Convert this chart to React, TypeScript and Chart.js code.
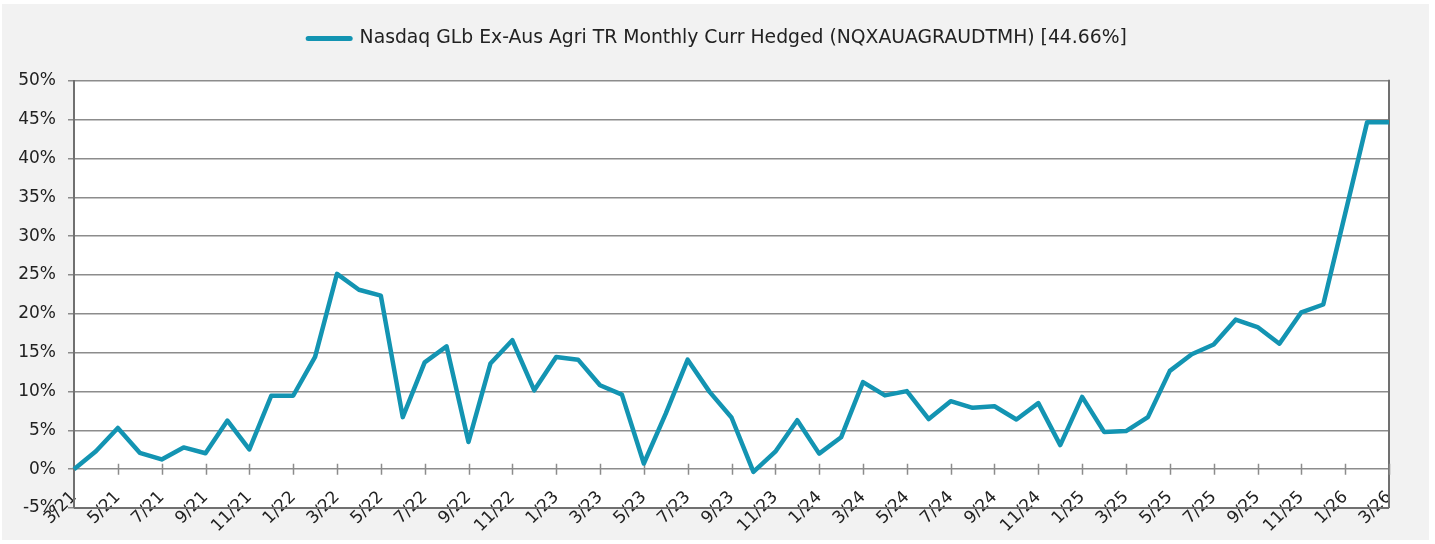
import React, { useEffect, useRef } from 'react';
import { Chart, registerables } from 'chart.js';

Chart.register(...registerables);

const months = [
  '3/21', '4/21', '5/21', '6/21', '7/21', '8/21', '9/21', '10/21', '11/21', '12/21',
  '1/22', '2/22', '3/22', '4/22', '5/22', '6/22', '7/22', '8/22', '9/22', '10/22', '11/22', '12/22',
  '1/23', '2/23', '3/23', '4/23', '5/23', '6/23', '7/23', '8/23', '9/23', '10/23', '11/23', '12/23',
  '1/24', '2/24', '3/24', '4/24', '5/24', '6/24', '7/24', '8/24', '9/24', '10/24', '11/24', '12/24',
  '1/25', '2/25', '3/25', '4/25', '5/25', '6/25', '7/25', '8/25', '9/25', '10/25', '11/25', '12/25',
  '1/26', '2/26', '3/26',
];

const values = [
  0.0, 2.3, 5.3, 2.1, 1.25, 2.8, 2.05, 6.25, 2.55, 9.45,
  9.45, 14.45, 25.15, 23.1, 22.35, 6.7, 13.75, 15.8, 3.5, 13.6, 16.6, 10.15,
  14.45, 14.1, 10.8, 9.6, 0.73, 7.15, 14.1, 9.95, 6.65, -0.35, 2.25, 6.3,
  2.0, 4.1, 11.2, 9.5, 10.05, 6.45, 8.75, 7.9, 8.1, 6.4, 8.5, 3.1,
  9.3, 4.8, 4.9, 6.7, 12.65, 14.8, 16.05, 19.25, 18.3, 16.15, 20.2, 21.2,
  32.9, 44.65, 44.66,
];

const seriesName = 'Nasdaq GLb Ex-Aus Agri TR Monthly Curr Hedged (NQXAUAGRAUDTMH) [44.66%]';
const yMin = -5;
const yMax = 50;
const yStep = 5;
const labelEvery = 2;

const FONT = "'DejaVu Sans', sans-serif";
const LINE_COLOR = '#1394b2';
const GRID_COLOR = '#8c8c8c';
const FRAME_COLOR = '#707070';
const TEXT_COLOR = '#222222';

const framePlugin = {
  id: 'frame',
  beforeInit(chart: any) {
    const legend = chart.legend;
    if (legend && !legend.__patched) {
      const orig = legend.fit;
      legend.fit = function () {
        orig.call(this);
        this.height += 23;
      };
      legend.__patched = true;
    }
  },
  afterLayout(chart: any) {
    const legend = chart.legend;
    if (legend) {
      legend.left = 0;
      legend.right = chart.width;
      legend.width = chart.width;
    }
  },
  beforeDraw(chart: any) {
    const { ctx, chartArea: a } = chart;
    ctx.save();
    ctx.fillStyle = '#ffffff';
    ctx.fillRect(a.left, a.top, a.right - a.left, a.bottom - a.top);
    ctx.restore();
  },
  beforeDatasetsDraw(chart: any) {
    const { ctx, chartArea: a, scales } = chart;
    ctx.save();
    ctx.strokeStyle = FRAME_COLOR;
    ctx.lineWidth = 2;
    ctx.beginPath();
    ctx.moveTo(a.left, a.bottom);
    ctx.lineTo(a.right, a.bottom);
    ctx.moveTo(a.right, a.top - 1);
    ctx.lineTo(a.right, a.bottom);
    ctx.stroke();
    const y0 = scales.y.getPixelForValue(0);
    ctx.strokeStyle = GRID_COLOR;
    ctx.lineWidth = 1.5;
    ctx.beginPath();
    for (let i = labelEvery; i < months.length; i += labelEvery) {
      const x = Math.round(scales.x.getPixelForValue(i)) + 0.5;
      ctx.moveTo(x, y0 - 5.5);
      ctx.lineTo(x, y0 + 5.5);
    }
    ctx.stroke();
    ctx.restore();
  },
};

export default function App() {
  const canvasRef = useRef<HTMLCanvasElement | null>(null);

  useEffect(() => {
    const canvas = canvasRef.current;
    if (!canvas) return;
    const chart = new Chart(canvas, {
      type: 'line',
      data: {
        labels: months,
        datasets: [
          {
            label: seriesName,
            data: values,
            borderColor: LINE_COLOR,
            backgroundColor: LINE_COLOR,
            borderWidth: 4.5,
            pointRadius: 0,
            pointHoverRadius: 0,
            tension: 0,
            fill: false,
            borderJoinStyle: 'round',
          },
        ],
      },
      options: {
        animation: false,
        responsive: false,
        devicePixelRatio: 1,
        layout: { padding: { left: 0, right: 46, top: 17, bottom: 36 } },
        plugins: {
          tooltip: { enabled: false },
          legend: {
            display: true,
            position: 'top',
            labels: {
              font: { family: FONT, size: 18.8 },
              color: TEXT_COLOR,
              usePointStyle: true,
              pointStyle: 'line',
              pointStyleWidth: 42,
              padding: 12,
              generateLabels: (c: any) => {
                const items = (Chart as any).defaults.plugins.legend.labels.generateLabels(c);
                items.forEach((it: any) => {
                  it.lineWidth = 5;
                  it.lineCap = 'round';
                  it.pointStyle = 'line';
                  it.strokeStyle = LINE_COLOR;
                });
                return items;
              },
            },
          },
        },
        scales: {
          x: {
            type: 'category',
            position: { y: 0 } as any,
            offset: false,
            grid: { display: false, drawTicks: false },
            border: { display: false },
            ticks: {
              autoSkip: false,
              minRotation: 45,
              maxRotation: 45,
              padding: 18,
              color: TEXT_COLOR,
              font: { family: FONT, size: 17 },
              callback: (_v: any, i: number) => (i % labelEvery === 0 ? months[i] : ''),
            },
          },
          y: {
            min: yMin,
            max: yMax,
            afterFit: (s: any) => {
              s.width = 74;
            },
            grid: {
              color: GRID_COLOR,
              lineWidth: 1.5,
              drawTicks: true,
              tickLength: 6,
              tickColor: GRID_COLOR,
            },
            border: { display: true, color: FRAME_COLOR, width: 2 },
            ticks: {
              stepSize: yStep,
              padding: 12,
              color: TEXT_COLOR,
              font: { family: FONT, size: 17 },
              callback: (v: any) => `${v}%`,
            },
          },
        },
      },
      plugins: [framePlugin as any],
    });
    return () => chart.destroy();
  }, []);

  return (
    <div style={{ position: 'fixed', left: 0, top: 0, width: 1435, height: 544, background: '#ffffff' }}>
      <div style={{ position: 'absolute', left: 2, top: 4, width: 1427, height: 536, background: '#f2f2f2' }} />
      <canvas
        ref={canvasRef}
        width={1435}
        height={544}
        style={{ position: 'absolute', left: 0, top: 0, width: 1435, height: 544 }}
      />
    </div>
  );
}
